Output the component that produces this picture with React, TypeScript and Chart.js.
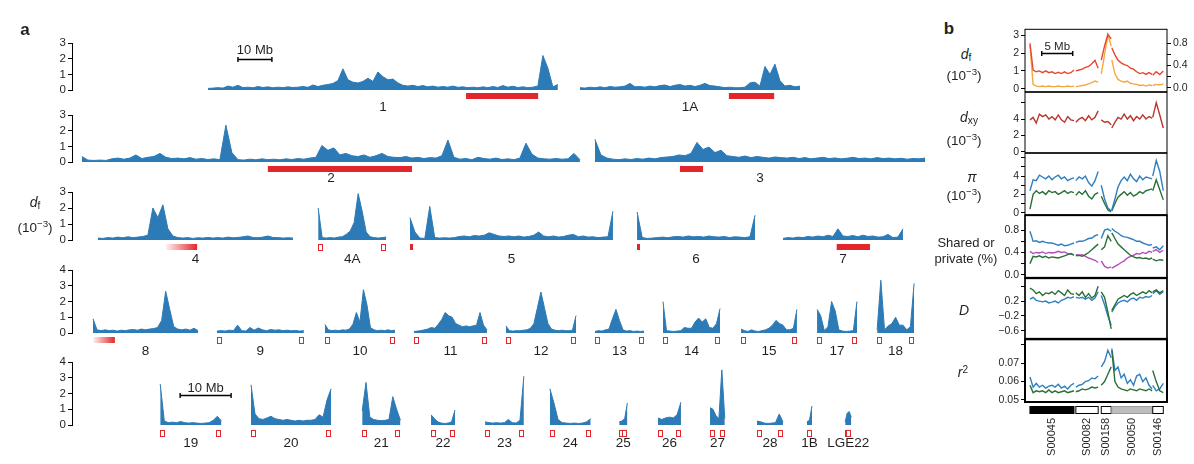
import React, { useEffect, useRef } from "react";
import { Chart, registerables } from "chart.js";
Chart.register(...registerables);

const FONT = '"Liberation Sans", Arial, Helvetica, sans-serif';
const TEXT = "#231f20";
const BLUE = "#2c7bb6";
const RED = "#e3262b";
Chart.defaults.font.family = FONT;

// ---------------- Panel a: d_f (10^-3) along each chromosome ----------------
const chr1 = [0.10,0.12,0.15,0.12,0.25,0.18,0.30,0.15,0.18,0.14,0.22,0.16,0.20,0.14,0.18,0.15,0.20,0.16,0.18,0.22,0.17,0.32,0.22,0.30,0.35,0.42,0.60,1.35,0.65,0.50,0.45,0.55,0.75,0.55,1.15,0.85,0.65,0.70,0.45,0.30,0.25,0.30,0.22,0.28,0.20,0.25,0.18,0.22,0.18,0.25,0.17,0.20,0.15,0.18,0.14,0.20,0.15,0.22,0.16,0.28,0.18,0.24,0.16,0.20,0.15,0.18,0.25,2.20,1.40,0.20,0.35];
const chr1A = [0.15,0.12,0.18,0.14,0.20,0.15,0.22,0.18,0.20,0.25,0.42,0.20,0.22,0.18,0.25,0.20,0.28,0.32,0.22,0.30,0.35,0.25,0.30,0.22,0.30,0.42,0.28,0.25,0.20,0.15,0.18,0.14,0.15,0.18,0.45,0.50,0.25,1.50,1.00,1.65,0.60,0.25,0.30,0.20,0.25];
const chr2 = [0.35,0.12,0.10,0.12,0.10,0.20,0.25,0.18,0.25,0.45,0.22,0.30,0.35,0.55,0.30,0.22,0.25,0.20,0.28,0.18,0.22,0.16,0.20,0.15,2.35,0.60,0.15,0.12,0.18,0.14,0.20,0.15,0.18,0.14,0.20,0.16,0.22,0.18,0.25,0.30,1.05,0.75,0.90,0.45,0.55,0.40,0.35,0.45,0.30,0.40,0.55,0.35,0.30,0.28,0.35,0.25,0.30,0.22,0.28,0.25,0.40,1.40,0.30,0.18,0.22,0.15,0.30,0.22,0.18,0.25,0.16,0.20,0.15,0.25,1.20,0.50,0.25,0.20,0.18,0.22,0.18,0.20,0.55,0.15];
const chr3 = [1.45,0.45,0.25,0.18,0.15,0.20,0.16,0.22,0.18,0.25,0.20,0.28,0.32,0.35,0.45,0.40,0.55,1.25,0.80,0.95,0.60,0.75,0.40,0.35,0.30,0.38,0.28,0.35,0.30,0.25,0.32,0.28,0.25,0.30,0.22,0.28,0.20,0.25,0.30,0.22,0.26,0.20,0.24,0.30,0.22,0.25,0.20,0.28,0.22,0.25,0.20,0.24,0.18,0.22,0.20,0.25];
const chr4 = [0.12,0.10,0.15,0.12,0.18,0.14,0.20,0.15,0.18,0.22,0.30,2.00,1.40,2.20,0.70,0.25,0.15,0.12,0.15,0.10,0.14,0.12,0.16,0.12,0.15,0.12,0.18,0.14,0.16,0.20,0.25,0.16,0.14,0.18,0.25,0.16,0.15,0.12,0.14,0.12];
const chr4A = [2.00,0.15,0.12,0.15,0.12,0.18,0.20,0.35,0.55,1.10,2.90,1.80,0.50,0.20,0.15,0.12,0.15,0.18];
const chr5 = [1.40,0.50,0.12,0.10,2.10,0.15,0.12,0.14,0.12,0.15,0.22,0.25,0.20,0.28,0.25,0.30,0.45,0.35,0.25,0.22,0.25,0.20,0.25,0.18,0.22,0.30,0.50,0.25,0.20,0.25,0.18,0.22,0.30,0.35,0.20,0.25,0.18,0.20,0.15,0.18,0.20,1.80];
const chr6 = [1.75,0.15,0.10,0.12,0.15,0.18,0.14,0.20,0.22,0.18,0.25,0.20,0.22,0.18,0.25,0.20,0.18,0.22,0.15,0.20,0.18,0.15,0.20,1.55];
const chr7 = [0.10,0.15,0.12,0.18,0.15,0.22,0.18,0.25,0.20,0.30,0.22,0.70,0.25,0.22,0.28,0.20,0.30,0.22,0.25,0.18,0.20,0.35,0.15,0.18,0.70];
const chr8 = [0.90,0.20,0.15,0.20,0.15,0.18,0.12,0.18,0.15,0.20,0.22,0.18,0.25,0.20,0.25,0.28,0.35,0.80,2.65,1.50,0.40,0.25,0.20,0.25,0.18,0.30,0.15];
const chr9 = [0.12,0.15,0.12,0.18,0.15,0.50,0.15,0.12,0.35,0.18,0.32,0.20,0.15,0.22,0.18,0.20,0.15,0.18,0.14,0.16,0.12,0.15];
const chr10 = [0.55,0.20,0.15,0.18,0.15,0.20,0.18,0.25,0.55,1.30,0.70,2.75,1.80,0.35,0.20,0.15,0.18,0.15,0.20,0.15,0.18];
const chr11 = [0.10,0.12,0.15,0.20,0.25,0.35,0.30,0.55,0.85,1.30,1.10,1.00,0.60,0.50,0.40,0.45,0.40,0.45,0.50,1.30,0.50,0.20];
const chr12 = [0.45,0.15,0.12,0.15,0.14,0.18,0.20,0.30,0.60,1.60,2.60,1.60,0.60,0.25,0.18,0.15,0.18,0.15,0.14,0.18,1.10];
const chr13 = [0.10,0.15,0.12,0.20,0.25,0.90,1.50,0.80,0.20,0.12,0.15,0.10,0.12,0.10,0.12];
const chr14 = [2.00,0.15,0.12,0.10,0.12,0.15,0.35,0.30,0.30,0.70,0.95,0.70,0.90,0.35,0.30,0.60,1.55];
const chr15 = [0.25,0.15,0.10,0.20,0.12,0.10,0.15,0.20,0.30,0.50,0.80,0.60,0.50,0.20,0.20,0.30,1.50];
const chr17 = [1.50,1.10,0.15,0.40,2.00,1.40,0.20,0.12,0.10,0.12,0.15,2.00];
const chr18 = [0.20,3.35,0.20,0.45,0.60,1.00,0.50,0.50,0.20,0.40,3.15];
const chr19 = [2.60,0.25,0.15,0.18,0.15,0.22,0.15,0.12,0.15,0.12,0.10,0.12,0.15,0.30,0.55,0.25];
const chr20 = [2.55,0.70,0.40,0.35,0.45,0.55,0.40,0.35,0.30,0.35,0.30,0.25,0.30,0.25,0.30,0.30,0.35,0.65,0.50,1.60,2.30];
const chr21 = [0.90,2.70,0.50,0.35,0.30,0.28,0.30,0.35,1.80,1.00,0.30];
const chr22 = [0.65,0.40,0.20,0.12,0.10,0.12,0.20,0.95];
const chr23 = [0.20,0.15,0.12,0.15,0.12,0.15,0.35,0.15,0.12,0.30,3.10];
const chr24 = [2.30,1.40,0.35,0.15,0.12,0.10,0.12,0.10,0.12,0.20,0.40];
const chr25 = [0.20,0.25,0.40,1.40];
const chr26 = [0.45,0.35,0.45,0.50,0.45,0.65,1.45];
const chr27 = [1.10,1.00,0.60,0.40,3.50,0.40];
const chr28 = [0.25,0.20,0.12,0.10,0.12,0.15,0.70,0.20];
const chr1B = [0.20,0.30,1.20];
const chrLGE22 = [0.20,0.75,0.85,0.50];

const ROW_Y_TICK_STEP = 1;
const SCALE_BAR_MB = 10;

// chromosome placement (row, start and length in Mb on that row's axis)
type Ends = "boxes" | "startTick" | "none";
const CHROMS: { name: string; row: number; start: number; len: number; values: number[]; ends: Ends }[] = [
  { name: "1", row: 0, start: 40.0, len: 102.9, values: chr1, ends: "none" },
  { name: "1A", row: 0, start: 149.4, len: 64.7, values: chr1A, ends: "none" },
  { name: "2", row: 1, start: 2.9, len: 146.5, values: chr2, ends: "none" },
  { name: "3", row: 1, start: 153.8, len: 97.1, values: chr3, ends: "none" },
  { name: "4", row: 2, start: 7.6, len: 57.4, values: chr4, ends: "none" },
  { name: "4A", row: 2, start: 72.4, len: 20.0, values: chr4A, ends: "boxes" },
  { name: "5", row: 2, start: 99.4, len: 59.7, values: chr5, ends: "startTick" },
  { name: "6", row: 2, start: 166.2, len: 34.7, values: chr6, ends: "startTick" },
  { name: "7", row: 2, start: 209.1, len: 35.3, values: chr7, ends: "none" },
  { name: "8", row: 3, start: 5.0, len: 25.0, values: chr8, ends: "none" },
  { name: "9", row: 3, start: 34.5, len: 20.7, values: chr9, ends: "boxes" },
  { name: "10", row: 3, start: 60.2, len: 16.7, values: chr10, ends: "boxes" },
  { name: "11", row: 3, start: 81.4, len: 17.4, values: chr11, ends: "boxes" },
  { name: "12", row: 3, start: 103.3, len: 16.7, values: chr12, ends: "boxes" },
  { name: "13", row: 3, start: 124.5, len: 11.7, values: chr13, ends: "boxes" },
  { name: "14", row: 3, start: 140.7, len: 13.6, values: chr14, ends: "boxes" },
  { name: "15", row: 3, start: 159.3, len: 13.3, values: chr15, ends: "boxes" },
  { name: "17", row: 3, start: 177.4, len: 9.5, values: chr17, ends: "boxes" },
  { name: "18", row: 3, start: 191.7, len: 8.8, values: chr18, ends: "boxes" },
  { name: "19", row: 4, start: 17.3, len: 12.0, values: chr19, ends: "boxes" },
  { name: "20", row: 4, start: 35.1, len: 15.7, values: chr20, ends: "boxes" },
  { name: "21", row: 4, start: 56.9, len: 7.5, values: chr21, ends: "boxes" },
  { name: "22", row: 4, start: 70.4, len: 4.7, values: chr22, ends: "boxes" },
  { name: "23", row: 4, start: 81.0, len: 7.6, values: chr23, ends: "boxes" },
  { name: "24", row: 4, start: 93.7, len: 8.0, values: chr24, ends: "boxes" },
  { name: "25", row: 4, start: 107.3, len: 1.6, values: chr25, ends: "boxes" },
  { name: "26", row: 4, start: 114.9, len: 4.5, values: chr26, ends: "boxes" },
  { name: "27", row: 4, start: 125.1, len: 2.9, values: chr27, ends: "boxes" },
  { name: "28", row: 4, start: 134.3, len: 5.1, values: chr28, ends: "boxes" },
  { name: "1B", row: 4, start: 144.1, len: 1.0, values: chr1B, ends: "boxes" },
  { name: "LGE22", row: 4, start: 151.6, len: 1.2, values: chrLGE22, ends: "boxes" },
];

const RED_BARS = [
  { row: 0, from: 115.9, to: 137.1, kind: "solid" },
  { row: 0, from: 193.2, to: 206.5, kind: "solid" },
  { row: 1, from: 57.6, to: 100.0, kind: "solid" },
  { row: 1, from: 178.8, to: 185.6, kind: "solid" },
  { row: 2, from: 27.6, to: 36.8, kind: "fade" },
  { row: 2, from: 224.9, to: 234.7, kind: "solid" },
  { row: 3, from: 5.0, to: 10.2, kind: "fade" },
];

const ROW_LAYOUT: any[] = [
  { top: 33, height: 84, padTop: 10, yMax: 3, pxPerMb: 3.4, markDy: 5.5, labelDy: 17, scaleBar: { from: 48.8, y: 2.0, gap: 6 } },
  { top: 105, height: 84, padTop: 10, yMax: 3, pxPerMb: 3.4, markDy: 7.3, labelDy: 16.5 },
  { top: 182, height: 86, padTop: 10, yMax: 3, pxPerMb: 3.4, markDy: 6.5, labelDy: 19 },
  { top: 260, height: 103, padTop: 10, yMax: 4, pxPerMb: 4.2, markDy: 7.4, labelDy: 18 },
  { top: 352, height: 105, padTop: 10, yMax: 4, pxPerMb: 5.1, markDy: 7.8, labelDy: 18.7, scaleBar: { from: 21.2, y: 1.9, gap: 3.5 } },
];
const ROW_PLOT_BOTTOM = [90, 162, 240, 333, 425];
const ROW_WIDTH = 935;
const ROW_AXIS_W = 72;
const ROW_PAD_R = 5;

// ---------------- Panel b ----------------
const SCAFFOLDS = [
  { name: "S00045", from: 0.8, to: 7.9, fill: "#000000", stroke: "#000000" },
  { name: "S00082", from: 8.2, to: 11.8, fill: "#ffffff", stroke: "#000000" },
  { name: "S00158", from: 12.3, to: 13.9, fill: "#ffffff", stroke: "#000000" },
  { name: "S00050", from: 14.0, to: 20.5, fill: "#bdbdbd", stroke: "#9d9d9d" },
  { name: "S00146", from: 20.6, to: 22.3, fill: "#ffffff", stroke: "#000000" },
];
const PANEL_B_MB = 22.9;
const SCALE_BAR_B_MB = 5;

const dfRed = [2.55,1.05,0.95,1.0,0.9,1.0,0.9,0.95,0.85,0.92,0.85,0.95,0.85,0.9,1.05, null, 1.0,1.05,1.1,1.2,1.25,1.4,1.6,1.15, null, 1.6,2.4,3.05,2.8, null, 2.3,1.9,1.6,1.45,1.35,1.3,1.15,1.1,0.95,0.85,0.9,0.8,0.9,0.8, null, 0.75,0.95,0.8,1.0];
const dfOrange = [0.76,0.06,0.03,0.02,0.03,0.02,0.03,0.02,0.02,0.03,0.02,0.02,0.03,0.02,0.03, null, 0.02,0.03,0.04,0.05,0.07,0.09,0.12,0.1, null, 0.25,0.6,0.95,0.75, null, 0.5,0.25,0.15,0.12,0.1,0.12,0.08,0.07,0.06,0.04,0.05,0.03,0.05,0.04, null, 0.04,0.06,0.05,0.07];
const dxy = [3.9,4.2,3.5,4.6,4.3,4.5,4.0,4.3,3.9,4.5,3.9,3.6,4.3,3.9,3.8, null, 3.6,4.0,4.2,3.8,4.4,3.9,4.2,5.0, null, 3.9,3.6,3.7,3.3, null, 2.9,3.6,4.2,4.0,4.6,4.0,4.4,3.8,4.3,4.0,4.5,4.0,4.3,4.1, null, 4.2,6.0,4.5,2.9];
const piBlue = [2.4,3.6,3.5,4.1,3.9,3.7,4.0,3.6,3.9,4.1,3.7,3.9,3.5,3.7,3.8, null, 3.5,3.9,3.7,4.0,3.3,2.9,3.5,4.5, null, 3.0,1.5,0.5,0.2, null, 0.3,1.5,2.8,3.5,3.9,3.5,4.2,3.7,3.4,4.0,3.6,3.9,3.8,3.7, null, 4.0,5.7,4.5,2.4];
const piGreen = [0.4,2.0,2.4,2.1,2.3,2.0,2.4,2.2,2.3,2.0,2.2,2.4,2.1,2.3,2.2, null, 1.9,2.3,2.0,2.4,1.8,1.5,2.0,2.2, null, 1.8,1.0,0.3,0.1, null, 0.2,1.0,1.7,2.0,2.3,1.9,2.2,1.8,2.0,2.3,2.1,2.4,2.5,2.6, null, 2.4,3.6,2.5,1.4];
const sharedBlue = [0.78,0.6,0.61,0.58,0.6,0.58,0.57,0.57,0.55,0.53,0.55,0.52,0.53,0.55,0.57, null, 0.58,0.6,0.6,0.62,0.65,0.66,0.7,0.72, null, 0.65,0.8,0.82,0.78, null, 0.83,0.78,0.75,0.7,0.68,0.67,0.65,0.63,0.6,0.6,0.57,0.55,0.53,0.54, null, 0.48,0.5,0.45,0.52];
const sharedGreen = [0.2,0.33,0.32,0.34,0.31,0.33,0.3,0.32,0.31,0.3,0.32,0.34,0.36,0.38,0.35, null, 0.34,0.35,0.33,0.36,0.4,0.45,0.5,0.55, null, 0.45,0.5,0.7,0.6, null, 0.75,0.65,0.55,0.5,0.45,0.4,0.35,0.32,0.3,0.31,0.29,0.3,0.28,0.3, null, 0.28,0.25,0.27,0.26];
const privatePurple = [0.42,0.38,0.4,0.39,0.41,0.38,0.4,0.39,0.4,0.42,0.4,0.41,0.38,0.37,0.36, null, 0.36,0.35,0.36,0.33,0.3,0.28,0.26,0.22, null, 0.25,0.15,0.12,0.14, null, 0.12,0.15,0.18,0.22,0.25,0.3,0.33,0.35,0.38,0.37,0.4,0.38,0.42,0.4, null, 0.42,0.45,0.4,0.44];
const dGreen = [0.55,0.5,0.4,0.45,0.35,0.42,0.4,0.45,0.38,0.48,0.42,0.35,0.5,0.4,0.38, null, 0.42,0.35,0.45,0.3,0.4,0.28,0.35,0.6, null, 0.45,0.3,-0.1,-0.55, null, -0.05,0.1,0.25,0.3,0.35,0.3,0.38,0.42,0.35,0.4,0.45,0.4,0.48,0.42, null, 0.45,0.5,0.42,0.48];
const dBlue = [0.25,0.3,0.22,0.2,0.18,0.2,0.15,0.17,0.2,0.15,0.22,0.25,0.3,0.28,0.32, null, 0.3,0.28,0.3,0.25,0.3,0.22,0.28,0.45, null, 0.35,0.1,-0.2,-0.45, null, -0.1,0.05,0.15,0.2,0.22,0.18,0.25,0.28,0.22,0.3,0.28,0.32,0.3,0.35, null, 0.4,0.48,0.38,0.45];
const r2Blue = [0.0625,0.057,0.059,0.057,0.058,0.0565,0.0575,0.058,0.057,0.0585,0.0565,0.0575,0.056,0.058,0.059, null, 0.057,0.058,0.0585,0.06,0.0605,0.062,0.0615,0.063, null, 0.068,0.071,0.077,0.073, null, 0.078,0.066,0.068,0.062,0.064,0.059,0.061,0.058,0.063,0.064,0.06,0.062,0.058,0.056, null, 0.058,0.055,0.056,0.059];
const r2Green = [0.058,0.054,0.055,0.0545,0.055,0.054,0.0555,0.054,0.055,0.054,0.0545,0.055,0.054,0.0545,0.055, null, 0.0545,0.055,0.056,0.0555,0.056,0.057,0.0565,0.057, null, 0.058,0.06,0.064,0.068, null, 0.077,0.06,0.057,0.056,0.0555,0.055,0.056,0.0555,0.055,0.056,0.0555,0.055,0.056,0.055, null, 0.066,0.06,0.055,0.054];

const DF_TICKS = [0, 1, 2, 3];
const DF_TICK_LABELS = ["0", "1", "2", "3"];
const DF_RIGHT_TICKS = [0, 0.2, 0.4, 0.6, 0.8];
const DF_RIGHT_LABELS = ["0.0", "", "0.4", "", "0.8"];
const DXY_TICKS = [0, 2, 4, 6];
const DXY_LABELS = ["0", "2", "4", ""];
const PI_TICKS = [0, 1, 2, 3, 4, 5, 6];
const PI_LABELS = ["0", "", "2", "", "4", "", ""];
const SH_TICKS = [0, 0.2, 0.4, 0.6, 0.8];
const SH_LABELS = ["0.0", "", "0.4", "", "0.8"];
const D_TICKS = [-0.6, -0.2, 0.2, 0.6];
const D_LABELS = ["\u22120.6", "\u22120.2", "0.2", ""];
const R2_TICKS = [0.05, 0.06, 0.07, 0.08];
const R2_LABELS = ["0.05", "0.06", "0.07", ""];

const C_RED = "#e8462e";
const C_ORANGE = "#f6a83c";
const C_BRICK = "#b8352b";
const C_BLUE = "#2f7fc1";
const C_GREEN = "#2a7036";
const C_PURPLE = "#b24cbd";

const PANELS: any[] = [
  { top: 29, bottom: 92, min: -0.167, max: 3.333, ticks: DF_TICKS, labels: DF_TICK_LABELS, frame: 1,
    series: [{ data: dfRed, color: C_RED }, { data: dfOrange, color: C_ORANGE, axis: "y2" }],
    right: { min: -0.071, max: 1.049, ticks: DF_RIGHT_TICKS, labels: DF_RIGHT_LABELS } },
  { top: 92, bottom: 153, min: -0.12, max: 7.27, ticks: DXY_TICKS, labels: DXY_LABELS, frame: 1,
    series: [{ data: dxy, color: C_BRICK }] },
  { top: 153, bottom: 215, min: -0.22, max: 6.49, ticks: PI_TICKS, labels: PI_LABELS, frame: 1,
    series: [{ data: piBlue, color: C_BLUE }, { data: piGreen, color: C_GREEN }] },
  { top: 215, bottom: 278, min: -0.053, max: 1.067, ticks: SH_TICKS, labels: SH_LABELS, frame: 1.7,
    series: [{ data: sharedGreen, color: C_GREEN }, { data: sharedBlue, color: C_BLUE }, { data: privatePurple, color: C_PURPLE }] },
  { top: 278, bottom: 339, min: -0.813, max: 0.813, ticks: D_TICKS, labels: D_LABELS, frame: 1.7,
    series: [{ data: dGreen, color: C_GREEN }, { data: dBlue, color: C_BLUE }] },
  { top: 339, bottom: 402, min: 0.0489, max: 0.083, ticks: R2_TICKS, labels: R2_LABELS, frame: 2,
    series: [{ data: r2Green, color: C_GREEN }, { data: r2Blue, color: C_BLUE }] },
];
const PB_LEFT = 980;
const PB_WIDTH = 214;
const PB_AXIS_L = 45;
const PB_AXIS_R = 27;

// ---------------- helpers ----------------
function segmentPoints(series: (number | null)[]) {
  const segs: number[][] = [[]];
  for (const v of series) {
    if (v === null) segs.push([]);
    else segs[segs.length - 1].push(v);
  }
  const pts: any[] = [];
  segs.forEach((seg, k) => {
    const s = SCAFFOLDS[k];
    seg.forEach((v, i) => pts.push({ x: s.from + (seg.length > 1 ? (i * (s.to - s.from)) / (seg.length - 1) : 0), y: v }));
    if (k < segs.length - 1) pts.push({ x: (s.to + SCAFFOLDS[k + 1].from) / 2, y: null });
  });
  return pts;
}

function drawBox(ctx: any, x: number, y: number) {
  ctx.fillStyle = RED;
  ctx.fillRect(x, y, 5, 7);
  ctx.fillStyle = "#ffffff";
  ctx.fillRect(x + 1, y + 1, 3, 5);
}

function rowDecor(rowIdx: number) {
  const L = ROW_LAYOUT[rowIdx];
  return {
    id: "rowDecor" + rowIdx,
    afterDatasetsDraw(chart: any) {
      const ctx = chart.ctx;
      const xs = chart.scales.x;
      const ys = chart.scales.y;
      const base = ys.getPixelForValue(0);
      const my = Math.round(base + L.markDy);
      ctx.save();
      RED_BARS.filter((b) => b.row === rowIdx).forEach((b) => {
        const x0 = xs.getPixelForValue(b.from);
        const x1 = xs.getPixelForValue(b.to);
        if (b.kind === "fade") {
          const g = ctx.createLinearGradient(x0, 0, x1, 0);
          g.addColorStop(0, "rgba(227,38,43,0.06)");
          g.addColorStop(1, RED);
          ctx.fillStyle = g;
        } else ctx.fillStyle = RED;
        ctx.fillRect(x0, my - 3, x1 - x0, 6);
      });
      CHROMS.filter((c) => c.row === rowIdx).forEach((c) => {
        const x0 = xs.getPixelForValue(c.start);
        const x1 = xs.getPixelForValue(c.start + c.len);
        if (c.ends === "boxes") {
          drawBox(ctx, Math.round(x0), my - 3);
          drawBox(ctx, Math.round(x1) - 5, my - 3);
        } else if (c.ends === "startTick") {
          ctx.fillStyle = RED;
          ctx.fillRect(Math.round(x0), my - 3, 3, 6);
        }
        ctx.fillStyle = TEXT;
        ctx.font = `13.5px ${FONT}`;
        ctx.textAlign = "center";
        ctx.textBaseline = "middle";
        ctx.fillText(c.name, (x0 + x1) / 2, base + L.labelDy);
      });
      if (L.scaleBar) {
        const sx0 = xs.getPixelForValue(L.scaleBar.from);
        const sx1 = xs.getPixelForValue(L.scaleBar.from + SCALE_BAR_MB);
        const sy = Math.round(ys.getPixelForValue(L.scaleBar.y)) + 0.5;
        ctx.strokeStyle = "#000";
        ctx.lineWidth = 1.4;
        ctx.beginPath();
        ctx.moveTo(sx0, sy); ctx.lineTo(sx1, sy);
        ctx.moveTo(sx0, sy - 2.5); ctx.lineTo(sx0, sy + 2.5);
        ctx.moveTo(sx1, sy - 2.5); ctx.lineTo(sx1, sy + 2.5);
        ctx.stroke();
        ctx.fillStyle = TEXT;
        ctx.font = `13px ${FONT}`;
        ctx.textAlign = "center";
        ctx.textBaseline = "alphabetic";
        ctx.fillText(`${SCALE_BAR_MB} Mb`, (sx0 + sx1) / 2, sy - L.scaleBar.gap);
      }
      ctx.restore();
    },
  };
}

function makeRow(canvas: HTMLCanvasElement, rowIdx: number) {
  const L = ROW_LAYOUT[rowIdx];
  const padBottom = L.top + L.height - ROW_PLOT_BOTTOM[rowIdx];
  const datasets = CHROMS.filter((c) => c.row === rowIdx).map((c) => ({
    data: c.values.map((v, i) => ({ x: c.start + (i * c.len) / (c.values.length - 1), y: v })),
    borderColor: BLUE,
    backgroundColor: BLUE,
    borderWidth: 1,
    fill: "origin",
    pointRadius: 0,
    tension: 0,
  }));
  return new Chart(canvas, {
    type: "line",
    data: { datasets },
    options: {
      animation: false,
      responsive: true,
      maintainAspectRatio: false,
      events: [],
      layout: { padding: { top: L.padTop, bottom: padBottom, left: 0, right: ROW_PAD_R } },
      plugins: { legend: { display: false }, tooltip: { enabled: false } },
      scales: {
        x: { type: "linear", min: 0, max: (ROW_WIDTH - ROW_AXIS_W - ROW_PAD_R) / L.pxPerMb, display: false },
        y: {
          min: 0,
          max: L.yMax,
          afterFit: (s: any) => { s.width = ROW_AXIS_W; },
          ticks: { stepSize: ROW_Y_TICK_STEP, autoSkip: false, color: TEXT, font: { size: 11.5, family: FONT }, padding: 2 },
          grid: { drawOnChartArea: false, drawTicks: true, tickLength: 4, color: "#000", lineWidth: 1 },
          border: { display: true, color: "#000", width: 1 },
        },
      },
    } as any,
    plugins: [rowDecor(rowIdx)],
  } as any);
}

function axisOpts(min: number, max: number, ticks: number[], labels: string[], position: string, width: number) {
  return {
    type: "linear",
    position,
    min,
    max,
    afterBuildTicks: (s: any) => { s.ticks = ticks.map((v) => ({ value: v })); },
    afterFit: (s: any) => { s.width = width; },
    ticks: {
      autoSkip: false,
      padding: 2,
      color: TEXT,
      font: { family: FONT, size: 10.5 },
      callback: (v: number) => {
        const i = ticks.findIndex((t) => Math.abs(t - v) < 1e-9);
        return i >= 0 ? labels[i] : "";
      },
    },
    grid: { drawOnChartArea: false, drawTicks: true, tickLength: 4, color: "#000", lineWidth: 1 },
    border: { display: false },
  };
}

function panelDecor(idx: number) {
  const p = PANELS[idx];
  return {
    id: "panelDecor" + idx,
    afterDraw(chart: any) {
      const ctx = chart.ctx;
      const a = chart.chartArea;
      const xs = chart.scales.x;
      ctx.save();
      ctx.strokeStyle = "#000";
      ctx.lineWidth = p.frame;
      ctx.strokeRect(a.left, a.top, a.right - a.left, a.bottom - a.top);
      if (idx === 0) {
        const ys = chart.scales.y;
        const sx0 = xs.getPixelForValue(2.7);
        const sx1 = xs.getPixelForValue(2.7 + SCALE_BAR_B_MB);
        const sy = Math.round(ys.getPixelForValue(2.0)) + 0.5;
        ctx.lineWidth = 1.4;
        ctx.beginPath();
        ctx.moveTo(sx0, sy); ctx.lineTo(sx1, sy);
        ctx.moveTo(sx0, sy - 2.5); ctx.lineTo(sx0, sy + 2.5);
        ctx.moveTo(sx1, sy - 2.5); ctx.lineTo(sx1, sy + 2.5);
        ctx.stroke();
        ctx.fillStyle = TEXT;
        ctx.font = `11.5px ${FONT}`;
        ctx.textAlign = "center";
        ctx.textBaseline = "alphabetic";
        ctx.fillText(`${SCALE_BAR_B_MB} Mb`, (sx0 + sx1) / 2, sy - 4);
      }
      if (idx === PANELS.length - 1) {
        const by = a.bottom + 4.5;
        SCAFFOLDS.forEach((s) => {
          const x0 = xs.getPixelForValue(s.from);
          const x1 = xs.getPixelForValue(s.to);
          ctx.fillStyle = s.fill;
          ctx.fillRect(x0, by, x1 - x0, 7);
          ctx.strokeStyle = s.stroke;
          ctx.lineWidth = 1;
          ctx.strokeRect(x0, by, x1 - x0, 7);
          ctx.save();
          ctx.translate((x0 + x1) / 2, a.bottom + 16);
          ctx.rotate(-Math.PI / 2);
          ctx.fillStyle = TEXT;
          ctx.font = `11px ${FONT}`;
          ctx.textAlign = "right";
          ctx.textBaseline = "middle";
          ctx.fillText(s.name, 0, 0);
          ctx.restore();
        });
      }
      ctx.restore();
    },
  };
}

function makePanel(canvas: HTMLCanvasElement, idx: number, padBottom: number) {
  const p = PANELS[idx];
  const datasets = p.series.map((s: any) => ({
    data: segmentPoints(s.data),
    borderColor: s.color,
    backgroundColor: s.color,
    borderWidth: 1.4,
    pointRadius: 0,
    tension: 0,
    fill: false,
    spanGaps: false,
    yAxisID: s.axis || "y",
  }));
  const scales: any = {
    x: { type: "linear", min: 0, max: PANEL_B_MB, display: false },
    y: axisOpts(p.min, p.max, p.ticks, p.labels, "left", PB_AXIS_L),
  };
  if (p.right) scales.y2 = axisOpts(p.right.min, p.right.max, p.right.ticks, p.right.labels, "right", PB_AXIS_R);
  return new Chart(canvas, {
    type: "line",
    data: { datasets },
    options: {
      animation: false,
      responsive: true,
      maintainAspectRatio: false,
      events: [],
      layout: { padding: { top: 8, bottom: padBottom, left: 0, right: p.right ? 0 : PB_AXIS_R } },
      plugins: { legend: { display: false }, tooltip: { enabled: false } },
      scales,
    } as any,
    plugins: [panelDecor(idx)],
  } as any);
}

function CanvasBox({ left, top, width, height, build }: any) {
  const ref = useRef<HTMLCanvasElement>(null);
  useEffect(() => {
    const ch = build(ref.current);
    return () => ch.destroy();
  }, []);
  return (
    <div style={{ position: "absolute", left, top, width, height }}>
      <canvas ref={ref} />
    </div>
  );
}

function Lbl({ x, y, children, size = 13, weight = 400, italic = false }: any) {
  return (
    <div
      style={{
        position: "absolute",
        left: x,
        top: y,
        transform: "translate(-50%, -50%)",
        whiteSpace: "nowrap",
        fontSize: size,
        fontWeight: weight,
        fontStyle: italic ? "italic" : "normal",
        lineHeight: 1,
        textAlign: "center",
      }}
    >
      {children}
    </div>
  );
}

const sub = { fontSize: "72%", verticalAlign: "-0.25em", fontStyle: "normal" } as any;
const sup = { fontSize: "72%", verticalAlign: "0.45em" } as any;
const Unit = () => (
  <span>
    (10<span style={sup}>{"\u22123"}</span>)
  </span>
);

export default function App() {
  return (
    <div
      style={{
        position: "absolute",
        left: 0,
        top: 0,
        width: 1194,
        height: 464,
        background: "#fff",
        overflow: "hidden",
        fontFamily: FONT,
        color: TEXT,
      }}
    >
      {ROW_LAYOUT.map((r, i) => (
        <CanvasBox key={"row" + i} left={0} top={r.top} width={ROW_WIDTH} height={r.height} build={(c: any) => makeRow(c, i)} />
      ))}
      {PANELS.map((p, i) => {
        const last = i === PANELS.length - 1;
        const top = p.top - 8;
        const height = last ? 464 - top : p.bottom - p.top + 16;
        const padBottom = last ? 464 - p.bottom : 8;
        return (
          <CanvasBox key={"pb" + i} left={PB_LEFT} top={top} width={PB_WIDTH} height={height} build={(c: any) => makePanel(c, i, padBottom)} />
        );
      })}
      <Lbl x={25} y={29} size={17} weight={700}>a</Lbl>
      <Lbl x={949} y={28} size={17} weight={700}>b</Lbl>
      <Lbl x={35} y={203} size={14}><i>d</i><span style={sub}>f</span></Lbl>
      <Lbl x={35} y={227} size={13.5}><Unit /></Lbl>
      <Lbl x={966} y={55} size={14}><i>d</i><span style={sub}>f</span></Lbl>
      <Lbl x={964} y={75} size={13.5}><Unit /></Lbl>
      <Lbl x={969} y={118} size={14}><i>d</i><span style={sub}>xy</span></Lbl>
      <Lbl x={964} y={140} size={13.5}><Unit /></Lbl>
      <Lbl x={972} y={177} size={14} italic>{"\u03c0"}</Lbl>
      <Lbl x={964} y={195} size={13.5}><Unit /></Lbl>
      <Lbl x={966} y={242} size={13}>Shared or</Lbl>
      <Lbl x={966} y={258} size={13}>private (%)</Lbl>
      <Lbl x={964} y={310} size={14} italic>D</Lbl>
      <Lbl x={963} y={372} size={14}><i>r</i><span style={sup}>2</span></Lbl>
    </div>
  );
}
